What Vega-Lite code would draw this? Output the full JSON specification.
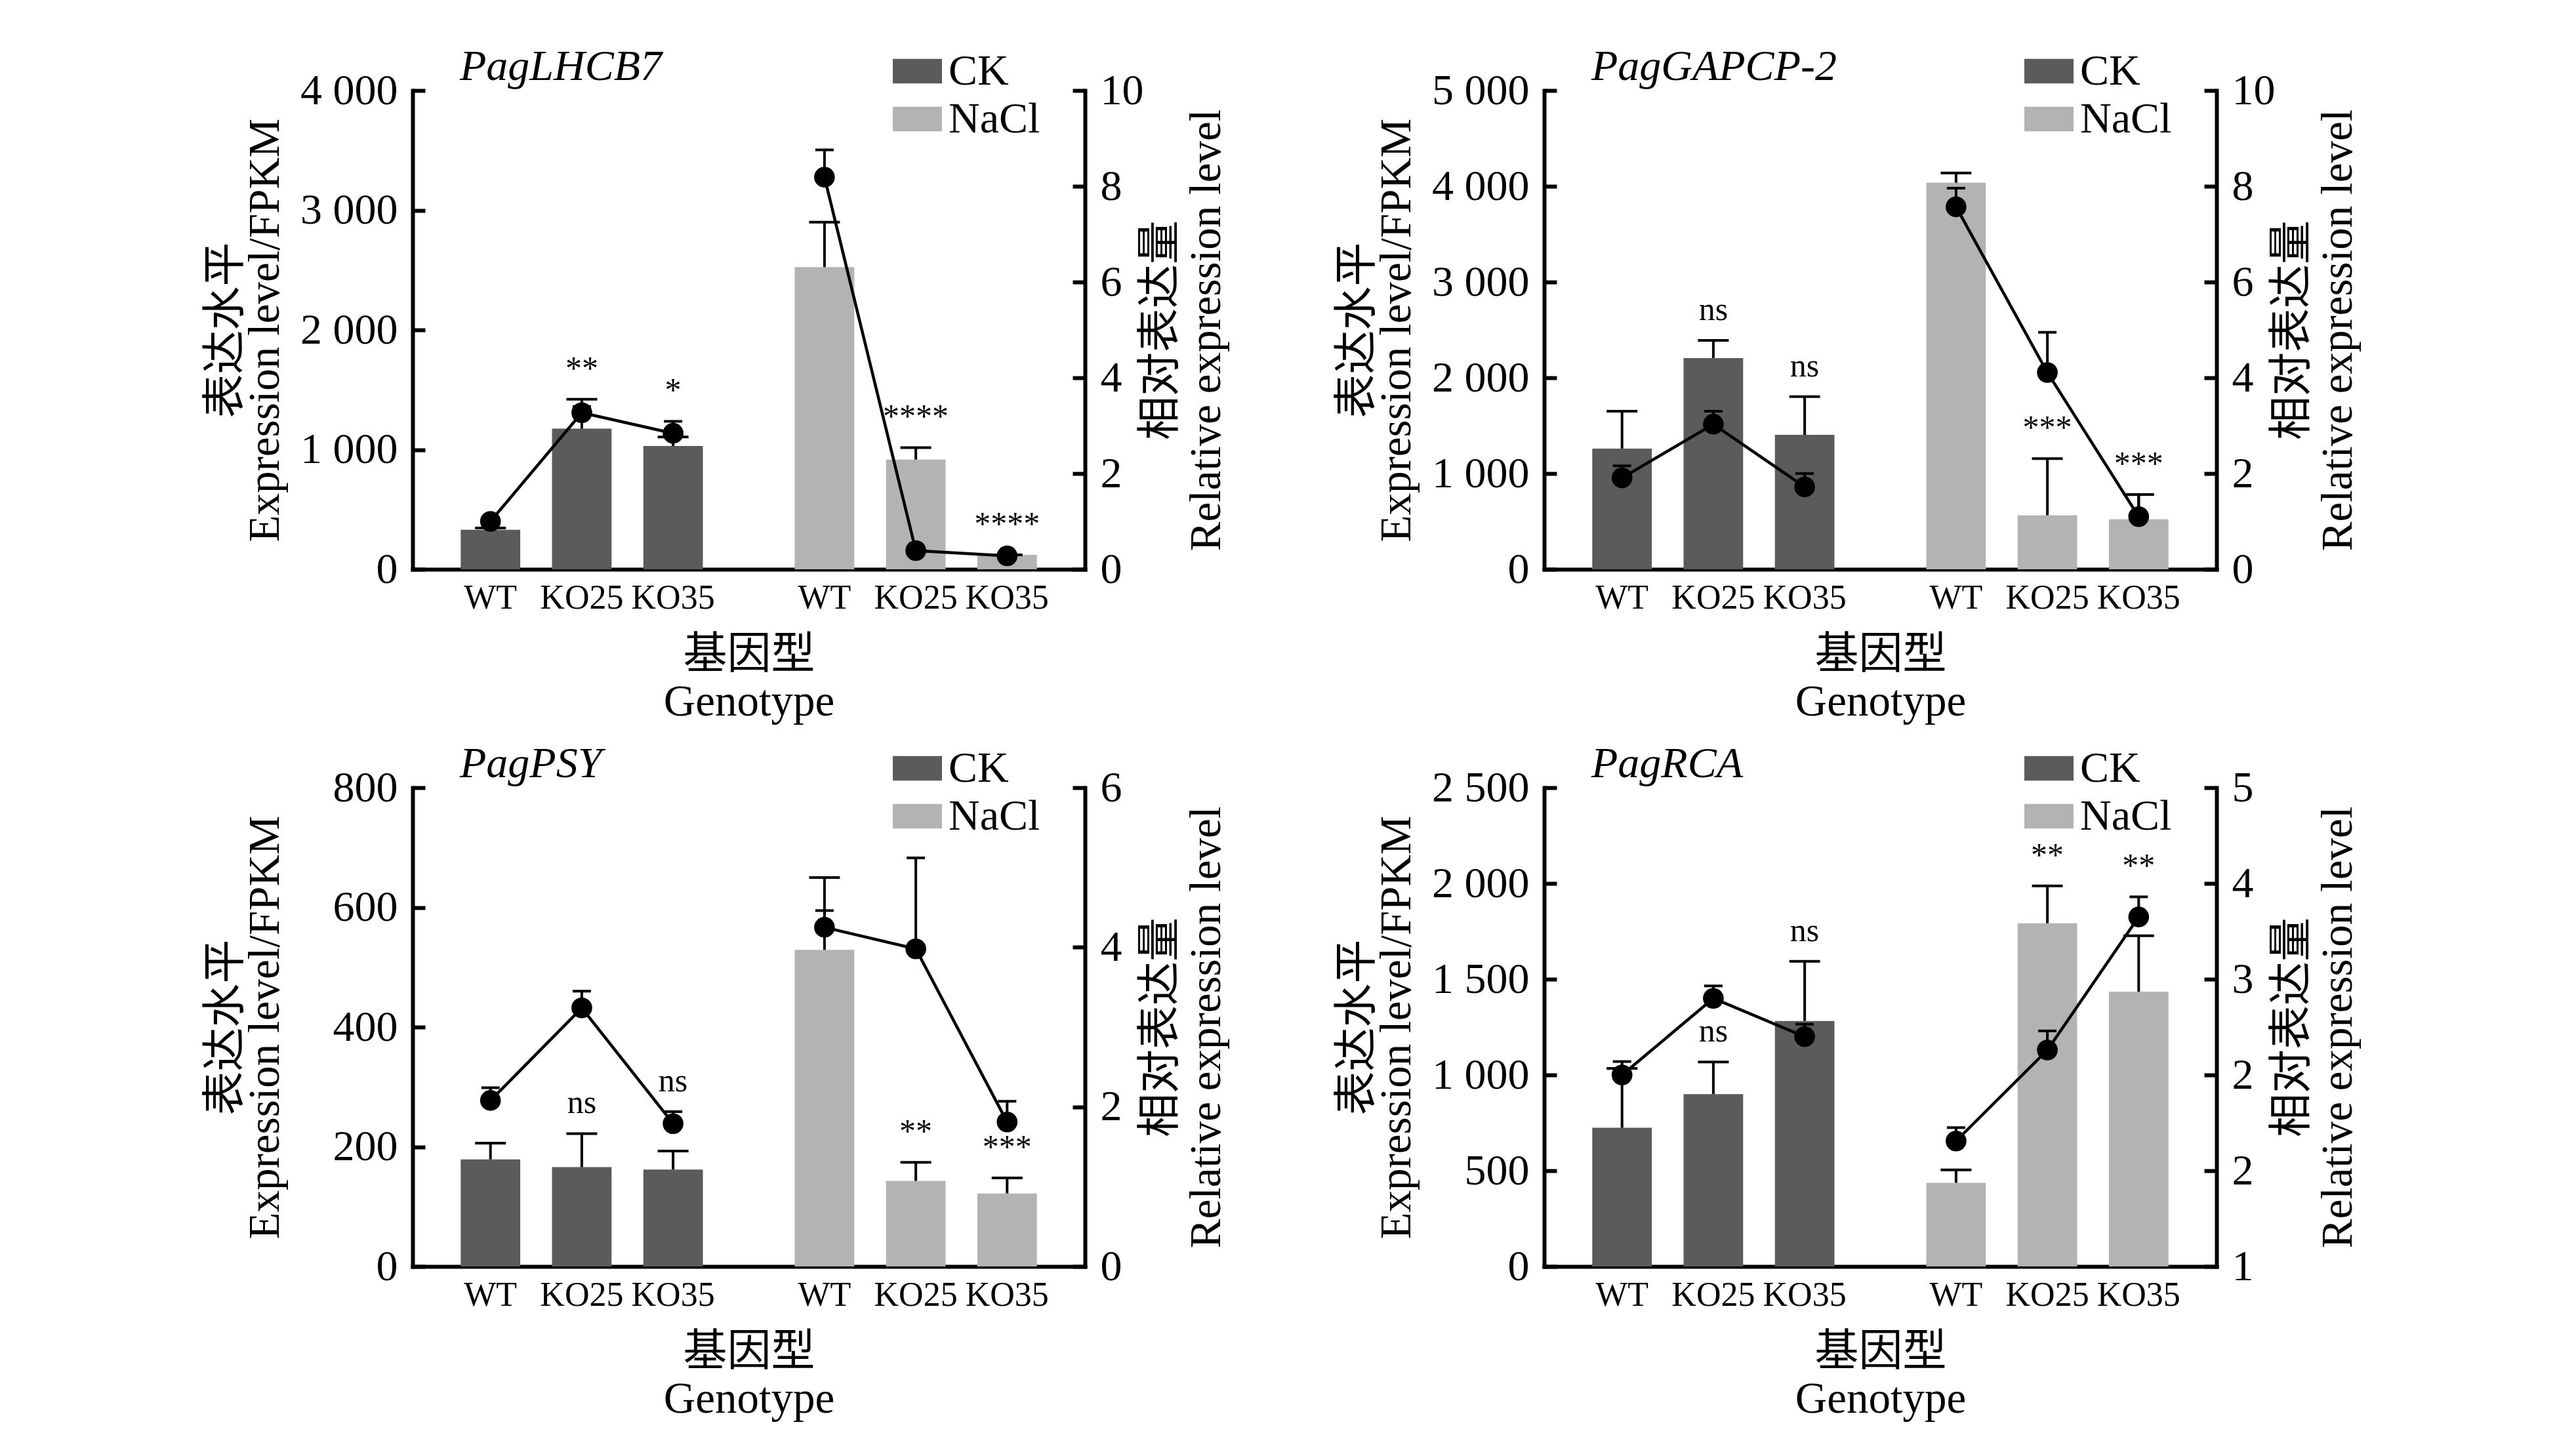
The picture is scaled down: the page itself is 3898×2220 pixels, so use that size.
{
  "$schema": "https://vega.github.io/schema/vega-lite/v6.json",
  "background": "white",
  "padding": {"left": 310, "top": 69, "right": 20, "bottom": 20},
  "datasets": {
    "LHCB7": [
      {"treatment": "CK", "genotype": "WT", "fpkm": 330, "fpkm_hi": 345, "rel": 1.0, "rel_hi": 1.05, "sig_bar": "", "sig_pt": ""},
      {"treatment": "CK", "genotype": "KO25", "fpkm": 1175, "fpkm_hi": 1420, "rel": 3.27, "rel_hi": 3.4, "sig_bar": "**", "sig_pt": ""},
      {"treatment": "CK", "genotype": "KO35", "fpkm": 1030, "fpkm_hi": 1105, "rel": 2.84, "rel_hi": 3.09, "sig_bar": "", "sig_pt": "*"},
      {"treatment": "NaCl", "genotype": "WT", "fpkm": 2525, "fpkm_hi": 2900, "rel": 8.19, "rel_hi": 8.76, "sig_bar": "", "sig_pt": ""},
      {"treatment": "NaCl", "genotype": "KO25", "fpkm": 917, "fpkm_hi": 1017, "rel": 0.39, "rel_hi": 0.42, "sig_bar": "****", "sig_pt": ""},
      {"treatment": "NaCl", "genotype": "KO35", "fpkm": 120, "fpkm_hi": 120, "rel": 0.28, "rel_hi": 0.3, "sig_bar": "****", "sig_pt": ""}
    ],
    "GAPCP2": [
      {"treatment": "CK", "genotype": "WT", "fpkm": 1261, "fpkm_hi": 1651, "rel": 1.91, "rel_hi": 2.16, "sig_bar": "", "sig_pt": ""},
      {"treatment": "CK", "genotype": "KO25", "fpkm": 2206, "fpkm_hi": 2390, "rel": 3.03, "rel_hi": 3.3, "sig_bar": "ns", "sig_pt": ""},
      {"treatment": "CK", "genotype": "KO35", "fpkm": 1404, "fpkm_hi": 1803, "rel": 1.72, "rel_hi": 2.0, "sig_bar": "ns", "sig_pt": ""},
      {"treatment": "NaCl", "genotype": "WT", "fpkm": 4037, "fpkm_hi": 4138, "rel": 7.57, "rel_hi": 7.96, "sig_bar": "", "sig_pt": ""},
      {"treatment": "NaCl", "genotype": "KO25", "fpkm": 564, "fpkm_hi": 1156, "rel": 4.11, "rel_hi": 4.95, "sig_bar": "***", "sig_pt": ""},
      {"treatment": "NaCl", "genotype": "KO35", "fpkm": 523, "fpkm_hi": 780, "rel": 1.1, "rel_hi": 1.56, "sig_bar": "***", "sig_pt": ""}
    ],
    "PSY": [
      {"treatment": "CK", "genotype": "WT", "fpkm": 179, "fpkm_hi": 206, "rel": 2.08, "rel_hi": 2.24, "sig_bar": "", "sig_pt": ""},
      {"treatment": "CK", "genotype": "KO25", "fpkm": 166, "fpkm_hi": 222, "rel": 3.24, "rel_hi": 3.45, "sig_bar": "ns", "sig_pt": ""},
      {"treatment": "CK", "genotype": "KO35", "fpkm": 162, "fpkm_hi": 193, "rel": 1.79, "rel_hi": 1.94, "sig_bar": "", "sig_pt": "ns"},
      {"treatment": "NaCl", "genotype": "WT", "fpkm": 529, "fpkm_hi": 650, "rel": 4.25, "rel_hi": 4.46, "sig_bar": "", "sig_pt": ""},
      {"treatment": "NaCl", "genotype": "KO25", "fpkm": 143, "fpkm_hi": 174, "rel": 3.98, "rel_hi": 5.12, "sig_bar": "**", "sig_pt": ""},
      {"treatment": "NaCl", "genotype": "KO35", "fpkm": 122, "fpkm_hi": 148, "rel": 1.81, "rel_hi": 2.07, "sig_bar": "***", "sig_pt": ""}
    ],
    "RCA": [
      {"treatment": "CK", "genotype": "WT", "fpkm": 724, "fpkm_hi": 1034, "rel": 2.0, "rel_hi": 2.14, "sig_bar": "", "sig_pt": ""},
      {"treatment": "CK", "genotype": "KO25", "fpkm": 900, "fpkm_hi": 1068, "rel": 2.8, "rel_hi": 2.93, "sig_bar": "ns", "sig_pt": ""},
      {"treatment": "CK", "genotype": "KO35", "fpkm": 1282, "fpkm_hi": 1593, "rel": 2.4, "rel_hi": 2.53, "sig_bar": "ns", "sig_pt": ""},
      {"treatment": "NaCl", "genotype": "WT", "fpkm": 437, "fpkm_hi": 504, "rel": 1.31, "rel_hi": 1.45, "sig_bar": "", "sig_pt": ""},
      {"treatment": "NaCl", "genotype": "KO25", "fpkm": 1792, "fpkm_hi": 1987, "rel": 2.26, "rel_hi": 2.46, "sig_bar": "**", "sig_pt": ""},
      {"treatment": "NaCl", "genotype": "KO35", "fpkm": 1435, "fpkm_hi": 1727, "rel": 3.65, "rel_hi": 3.86, "sig_bar": "", "sig_pt": "**"}
    ]
  },
  "columns": 2,
  "spacing": {"row": 333, "column": 700},
  "bounds": "flush",
  "resolve": {"scale": {"color": "independent"}, "legend": {"color": "independent"}},
  "concat": [
    {
      "width": 1025, "height": 730,
      "data": {"name": "LHCB7"},
      "title": {"text": "PagLHCB7"},
      "encoding": {
        "x": {"field": "treatment", "type": "nominal", "scale": {"domain": ["CK", "NaCl"], "paddingInner": 0.275, "paddingOuter": 0.144}, "axis": {"labels": false, "ticks": false, "title": ["基因型", "Genotype"], "titlePadding": 97, "titleLineHeight": 72, "minExtent": 0, "maxExtent": 0}},
        "xOffset": {"field": "genotype", "type": "nominal", "scale": {"domain": ["WT", "KO25", "KO35"], "paddingInner": 0.348, "paddingOuter": 0}}
      },
      "layer": [
        {"layer": [
          {"mark": {"type": "bar"}, "encoding": {"y": {"field": "fpkm", "type": "quantitative", "scale": {"domain": [0, 4000], "nice": false}, "axis": {"values": [0, 1000, 2000, 3000, 4000], "labelExpr": "replace(format(datum.value, ','), ',', ' ')", "title": ["表达水平", "Expression level/FPKM"], "titlePadding": 23, "titleLineHeight": 60, "minExtent": 168, "maxExtent": 168}}, "color": {"field": "treatment", "type": "nominal", "scale": {"domain": ["CK", "NaCl"], "range": ["#5b5b5b", "#b3b3b3"]}}}},
          {"mark": {"type": "rule", "color": "black", "strokeWidth": 4}, "encoding": {"y": {"field": "fpkm", "type": "quantitative", "scale": {"domain": [0, 4000], "nice": false}}, "y2": {"field": "fpkm_hi"}}},
          {"mark": {"type": "tick", "orient": "horizontal", "color": "black", "size": 47, "thickness": 4, "opacity": 1}, "encoding": {"y": {"field": "fpkm_hi", "type": "quantitative", "scale": {"domain": [0, 4000], "nice": false}}}},
          {"mark": {"type": "text", "baseline": "middle", "dy": -46, "fontSize": 50}, "encoding": {"y": {"field": "fpkm_hi", "type": "quantitative", "scale": {"domain": [0, 4000], "nice": false}}, "text": {"field": "sig_bar"}}},
          {"mark": {"type": "text", "baseline": "alphabetic", "dy": 60, "fontSize": 52}, "encoding": {"y": {"datum": 0, "type": "quantitative", "scale": {"domain": [0, 4000], "nice": false}}, "text": {"field": "genotype"}}}
        ]},
        {"layer": [
          {"mark": {"type": "rule", "color": "black", "strokeWidth": 4}, "encoding": {"y": {"field": "rel", "type": "quantitative", "scale": {"domain": [0, 10], "nice": false}}, "y2": {"field": "rel_hi"}}},
          {"mark": {"type": "tick", "orient": "horizontal", "color": "black", "size": 28, "thickness": 4, "opacity": 1}, "encoding": {"y": {"field": "rel_hi", "type": "quantitative", "scale": {"domain": [0, 10], "nice": false}}}},
          {"mark": {"type": "line", "color": "black", "strokeWidth": 4.5}, "encoding": {"y": {"field": "rel", "type": "quantitative", "scale": {"domain": [0, 10], "nice": false}, "axis": {"orient": "right", "values": [0, 2, 4, 6, 8, 10], "format": "d", "title": ["相对表达量", "Relative expression level"], "titleAngle": 270, "titleBaseline": "top", "titleX": 82, "titleLineHeight": 70, "minExtent": 84, "maxExtent": 84}}, "detail": {"field": "treatment"}}},
          {"mark": {"type": "point", "filled": true, "opacity": 1, "size": 1000, "color": "black"}, "encoding": {"y": {"field": "rel", "type": "quantitative", "scale": {"domain": [0, 10], "nice": false}}}},
          {"mark": {"type": "text", "baseline": "middle", "dy": -46, "fontSize": 50}, "encoding": {"y": {"field": "rel_hi", "type": "quantitative", "scale": {"domain": [0, 10], "nice": false}}, "text": {"field": "sig_pt"}}}
        ]}
      ],
      "resolve": {"scale": {"y": "independent"}}
    },
    {
      "width": 1025, "height": 730,
      "data": {"name": "GAPCP2"},
      "title": {"text": "PagGAPCP-2"},
      "encoding": {
        "x": {"field": "treatment", "type": "nominal", "scale": {"domain": ["CK", "NaCl"], "paddingInner": 0.275, "paddingOuter": 0.144}, "axis": {"labels": false, "ticks": false, "title": ["基因型", "Genotype"], "titlePadding": 97, "titleLineHeight": 72, "minExtent": 0, "maxExtent": 0}},
        "xOffset": {"field": "genotype", "type": "nominal", "scale": {"domain": ["WT", "KO25", "KO35"], "paddingInner": 0.348, "paddingOuter": 0}}
      },
      "layer": [
        {"layer": [
          {"mark": {"type": "bar"}, "encoding": {"y": {"field": "fpkm", "type": "quantitative", "scale": {"domain": [0, 5000], "nice": false}, "axis": {"values": [0, 1000, 2000, 3000, 4000, 5000], "labelExpr": "replace(format(datum.value, ','), ',', ' ')", "title": ["表达水平", "Expression level/FPKM"], "titlePadding": 23, "titleLineHeight": 60, "minExtent": 168, "maxExtent": 168}}, "color": {"field": "treatment", "type": "nominal", "scale": {"domain": ["CK", "NaCl"], "range": ["#5b5b5b", "#b3b3b3"]}}}},
          {"mark": {"type": "rule", "color": "black", "strokeWidth": 4}, "encoding": {"y": {"field": "fpkm", "type": "quantitative", "scale": {"domain": [0, 5000], "nice": false}}, "y2": {"field": "fpkm_hi"}}},
          {"mark": {"type": "tick", "orient": "horizontal", "color": "black", "size": 47, "thickness": 4, "opacity": 1}, "encoding": {"y": {"field": "fpkm_hi", "type": "quantitative", "scale": {"domain": [0, 5000], "nice": false}}}},
          {"mark": {"type": "text", "baseline": "middle", "dy": -46, "fontSize": 50}, "encoding": {"y": {"field": "fpkm_hi", "type": "quantitative", "scale": {"domain": [0, 5000], "nice": false}}, "text": {"field": "sig_bar"}}},
          {"mark": {"type": "text", "baseline": "alphabetic", "dy": 60, "fontSize": 52}, "encoding": {"y": {"datum": 0, "type": "quantitative", "scale": {"domain": [0, 5000], "nice": false}}, "text": {"field": "genotype"}}}
        ]},
        {"layer": [
          {"mark": {"type": "rule", "color": "black", "strokeWidth": 4}, "encoding": {"y": {"field": "rel", "type": "quantitative", "scale": {"domain": [0, 10], "nice": false}}, "y2": {"field": "rel_hi"}}},
          {"mark": {"type": "tick", "orient": "horizontal", "color": "black", "size": 28, "thickness": 4, "opacity": 1}, "encoding": {"y": {"field": "rel_hi", "type": "quantitative", "scale": {"domain": [0, 10], "nice": false}}}},
          {"mark": {"type": "line", "color": "black", "strokeWidth": 4.5}, "encoding": {"y": {"field": "rel", "type": "quantitative", "scale": {"domain": [0, 10], "nice": false}, "axis": {"orient": "right", "values": [0, 2, 4, 6, 8, 10], "format": "d", "title": ["相对表达量", "Relative expression level"], "titleAngle": 270, "titleBaseline": "top", "titleX": 82, "titleLineHeight": 70, "minExtent": 84, "maxExtent": 84}}, "detail": {"field": "treatment"}}},
          {"mark": {"type": "point", "filled": true, "opacity": 1, "size": 1000, "color": "black"}, "encoding": {"y": {"field": "rel", "type": "quantitative", "scale": {"domain": [0, 10], "nice": false}}}},
          {"mark": {"type": "text", "baseline": "middle", "dy": -46, "fontSize": 50}, "encoding": {"y": {"field": "rel_hi", "type": "quantitative", "scale": {"domain": [0, 10], "nice": false}}, "text": {"field": "sig_pt"}}}
        ]}
      ],
      "resolve": {"scale": {"y": "independent"}}
    },
    {
      "width": 1025, "height": 730,
      "data": {"name": "PSY"},
      "title": {"text": "PagPSY"},
      "encoding": {
        "x": {"field": "treatment", "type": "nominal", "scale": {"domain": ["CK", "NaCl"], "paddingInner": 0.275, "paddingOuter": 0.144}, "axis": {"labels": false, "ticks": false, "title": ["基因型", "Genotype"], "titlePadding": 97, "titleLineHeight": 72, "minExtent": 0, "maxExtent": 0}},
        "xOffset": {"field": "genotype", "type": "nominal", "scale": {"domain": ["WT", "KO25", "KO35"], "paddingInner": 0.348, "paddingOuter": 0}}
      },
      "layer": [
        {"layer": [
          {"mark": {"type": "bar"}, "encoding": {"y": {"field": "fpkm", "type": "quantitative", "scale": {"domain": [0, 800], "nice": false}, "axis": {"values": [0, 200, 400, 600, 800], "labelExpr": "replace(format(datum.value, ','), ',', ' ')", "title": ["表达水平", "Expression level/FPKM"], "titlePadding": 23, "titleLineHeight": 60, "minExtent": 168, "maxExtent": 168}}, "color": {"field": "treatment", "type": "nominal", "scale": {"domain": ["CK", "NaCl"], "range": ["#5b5b5b", "#b3b3b3"]}}}},
          {"mark": {"type": "rule", "color": "black", "strokeWidth": 4}, "encoding": {"y": {"field": "fpkm", "type": "quantitative", "scale": {"domain": [0, 800], "nice": false}}, "y2": {"field": "fpkm_hi"}}},
          {"mark": {"type": "tick", "orient": "horizontal", "color": "black", "size": 47, "thickness": 4, "opacity": 1}, "encoding": {"y": {"field": "fpkm_hi", "type": "quantitative", "scale": {"domain": [0, 800], "nice": false}}}},
          {"mark": {"type": "text", "baseline": "middle", "dy": -46, "fontSize": 50}, "encoding": {"y": {"field": "fpkm_hi", "type": "quantitative", "scale": {"domain": [0, 800], "nice": false}}, "text": {"field": "sig_bar"}}},
          {"mark": {"type": "text", "baseline": "alphabetic", "dy": 60, "fontSize": 52}, "encoding": {"y": {"datum": 0, "type": "quantitative", "scale": {"domain": [0, 800], "nice": false}}, "text": {"field": "genotype"}}}
        ]},
        {"layer": [
          {"mark": {"type": "rule", "color": "black", "strokeWidth": 4}, "encoding": {"y": {"field": "rel", "type": "quantitative", "scale": {"domain": [0, 6], "nice": false}}, "y2": {"field": "rel_hi"}}},
          {"mark": {"type": "tick", "orient": "horizontal", "color": "black", "size": 28, "thickness": 4, "opacity": 1}, "encoding": {"y": {"field": "rel_hi", "type": "quantitative", "scale": {"domain": [0, 6], "nice": false}}}},
          {"mark": {"type": "line", "color": "black", "strokeWidth": 4.5}, "encoding": {"y": {"field": "rel", "type": "quantitative", "scale": {"domain": [0, 6], "nice": false}, "axis": {"orient": "right", "values": [0, 2, 4, 6], "format": "d", "title": ["相对表达量", "Relative expression level"], "titleAngle": 270, "titleBaseline": "top", "titleX": 82, "titleLineHeight": 70, "minExtent": 84, "maxExtent": 84}}, "detail": {"field": "treatment"}}},
          {"mark": {"type": "point", "filled": true, "opacity": 1, "size": 1000, "color": "black"}, "encoding": {"y": {"field": "rel", "type": "quantitative", "scale": {"domain": [0, 6], "nice": false}}}},
          {"mark": {"type": "text", "baseline": "middle", "dy": -46, "fontSize": 50}, "encoding": {"y": {"field": "rel_hi", "type": "quantitative", "scale": {"domain": [0, 6], "nice": false}}, "text": {"field": "sig_pt"}}}
        ]}
      ],
      "resolve": {"scale": {"y": "independent"}}
    },
    {
      "width": 1025, "height": 730,
      "data": {"name": "RCA"},
      "title": {"text": "PagRCA"},
      "encoding": {
        "x": {"field": "treatment", "type": "nominal", "scale": {"domain": ["CK", "NaCl"], "paddingInner": 0.275, "paddingOuter": 0.144}, "axis": {"labels": false, "ticks": false, "title": ["基因型", "Genotype"], "titlePadding": 97, "titleLineHeight": 72, "minExtent": 0, "maxExtent": 0}},
        "xOffset": {"field": "genotype", "type": "nominal", "scale": {"domain": ["WT", "KO25", "KO35"], "paddingInner": 0.348, "paddingOuter": 0}}
      },
      "layer": [
        {"layer": [
          {"mark": {"type": "bar"}, "encoding": {"y": {"field": "fpkm", "type": "quantitative", "scale": {"domain": [0, 2500], "nice": false}, "axis": {"values": [0, 500, 1000, 1500, 2000, 2500], "labelExpr": "replace(format(datum.value, ','), ',', ' ')", "title": ["表达水平", "Expression level/FPKM"], "titlePadding": 23, "titleLineHeight": 60, "minExtent": 168, "maxExtent": 168}}, "color": {"field": "treatment", "type": "nominal", "scale": {"domain": ["CK", "NaCl"], "range": ["#5b5b5b", "#b3b3b3"]}}}},
          {"mark": {"type": "rule", "color": "black", "strokeWidth": 4}, "encoding": {"y": {"field": "fpkm", "type": "quantitative", "scale": {"domain": [0, 2500], "nice": false}}, "y2": {"field": "fpkm_hi"}}},
          {"mark": {"type": "tick", "orient": "horizontal", "color": "black", "size": 47, "thickness": 4, "opacity": 1}, "encoding": {"y": {"field": "fpkm_hi", "type": "quantitative", "scale": {"domain": [0, 2500], "nice": false}}}},
          {"mark": {"type": "text", "baseline": "middle", "dy": -46, "fontSize": 50}, "encoding": {"y": {"field": "fpkm_hi", "type": "quantitative", "scale": {"domain": [0, 2500], "nice": false}}, "text": {"field": "sig_bar"}}},
          {"mark": {"type": "text", "baseline": "alphabetic", "dy": 60, "fontSize": 52}, "encoding": {"y": {"datum": 0, "type": "quantitative", "scale": {"domain": [0, 2500], "nice": false}}, "text": {"field": "genotype"}}}
        ]},
        {"layer": [
          {"mark": {"type": "rule", "color": "black", "strokeWidth": 4}, "encoding": {"y": {"field": "rel", "type": "quantitative", "scale": {"domain": [0, 5], "nice": false}}, "y2": {"field": "rel_hi"}}},
          {"mark": {"type": "tick", "orient": "horizontal", "color": "black", "size": 28, "thickness": 4, "opacity": 1}, "encoding": {"y": {"field": "rel_hi", "type": "quantitative", "scale": {"domain": [0, 5], "nice": false}}}},
          {"mark": {"type": "line", "color": "black", "strokeWidth": 4.5}, "encoding": {"y": {"field": "rel", "type": "quantitative", "scale": {"domain": [0, 5], "nice": false}, "axis": {"orient": "right", "values": [0, 1, 2, 3, 4, 5], "format": "d", "labelExpr": "datum.value == 0 ? '1' : datum.value == 1 ? '2' : datum.label", "title": ["相对表达量", "Relative expression level"], "titleAngle": 270, "titleBaseline": "top", "titleX": 82, "titleLineHeight": 70, "minExtent": 84, "maxExtent": 84}}, "detail": {"field": "treatment"}}},
          {"mark": {"type": "point", "filled": true, "opacity": 1, "size": 1000, "color": "black"}, "encoding": {"y": {"field": "rel", "type": "quantitative", "scale": {"domain": [0, 5], "nice": false}}}},
          {"mark": {"type": "text", "baseline": "middle", "dy": -46, "fontSize": 50}, "encoding": {"y": {"field": "rel_hi", "type": "quantitative", "scale": {"domain": [0, 5], "nice": false}}, "text": {"field": "sig_pt"}}}
        ]}
      ],
      "resolve": {"scale": {"y": "independent"}}
    }
  ],
  "config": {
    "view": {"stroke": null},
    "font": "Liberation Serif",
    "text": {"font": "Liberation Serif", "color": "black"},
    "axis": {
      "grid": false,
      "domainColor": "black", "domainWidth": 6, "domainCap": "square",
      "tickColor": "black", "tickWidth": 6, "tickSize": -19, "labelPadding": 42,
      "labelFont": "Liberation Serif", "labelFontSize": 66, "labelColor": "black",
      "titleFont": "Liberation Serif, Noto Sans CJK SC", "titleFontSize": 67, "titleFontWeight": "normal", "titleColor": "black"
    },
    "legend": {
      "orient": "none", "legendX": 732, "legendY": -67, "title": null, "padding": 0,
      "symbolType": "M-1,-0.5H1V0.5H-1Z", "symbolSize": 5625, "symbolStrokeWidth": 0,
      "labelFont": "Liberation Serif", "labelFontSize": 66, "labelColor": "black", "labelOffset": 10, "rowPadding": 2
    },
    "title": {
      "font": "Liberation Serif", "fontStyle": "italic", "fontWeight": "normal", "fontSize": 66, "color": "black",
      "anchor": "start", "frame": "group", "dx": 72, "baseline": "alphabetic", "offset": -65
    }
  }
}
